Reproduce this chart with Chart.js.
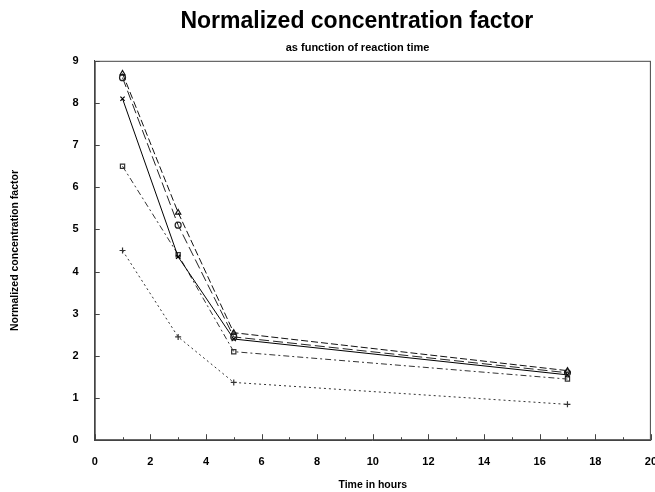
<!DOCTYPE html>
<html>
<head>
<meta charset="utf-8">
<script src="https://cdn.jsdelivr.net/npm/chart.js@4/dist/chart.umd.min.js"></script>
<style>
  html, body { margin: 0; padding: 0; background: #fff; overflow: hidden; }
  #wrap { width: 664px; height: 492px; position: relative; }
</style>
</head>
<body>
<div id="wrap"><canvas id="chart"></canvas></div>
<script>
// reaction times (hours)
const hours = [1, 3, 5, 17];

// normalized concentration factor, one array per run
const runA = [8.7, 5.4, 2.55, 1.65];
const runB = [8.6, 5.1, 2.45, 1.6];
const runC = [8.1, 4.35, 2.4, 1.55];
const runD = [6.5, 4.4, 2.1, 1.45];
const runE = [4.5, 2.45, 1.37, 0.85];

const xTicks = [0, 2, 4, 6, 8, 10, 12, 14, 16, 18, 20];
const yTicks = [0, 1, 2, 3, 4, 5, 6, 7, 8, 9];

const FONT = 'Liberation Sans';

function pts(vals) {
    return hours.map(function (h, i) { return { x: h, y: vals[i] }; });
}

function series(vals, dash, marker, color) {
    return {
        data: pts(vals),
        borderColor: color,
        backgroundColor: 'rgba(0,0,0,0)',
        borderWidth: 1,
        borderDash: dash,
        pointStyle: marker,
        pointRadius: 3,
        pointBorderColor: color,
        pointBorderWidth: 1.2,
        tension: 0
    };
}

// inward tick marks + frame, positioned from the chart's own scales
const frameTicks = {
    id: 'frameTicks',
    afterDatasetsDraw: function (chart) {
        const c = chart.ctx, a = chart.chartArea;
        const xs = chart.scales.x, ys = chart.scales.y;
        c.save();
        c.strokeStyle = '#444';
        c.lineWidth = 1;
        c.strokeRect(a.left + 0.5, a.top + 0.5, a.right - a.left - 1, a.bottom - a.top - 1);
        c.beginPath();
        for (let v = 0; v <= 20; v++) {
            const px = Math.round(xs.getPixelForValue(v)) + 0.5;
            const len = v % 2 === 0 ? 6 : 3;
            c.moveTo(px, a.bottom);
            c.lineTo(px, a.bottom - len);
        }
        yTicks.forEach(function (v) {
            const py = Math.round(ys.getPixelForValue(v)) + 0.5;
            c.moveTo(a.left, py);
            c.lineTo(a.left + 5, py);
        });
        c.stroke();
        c.restore();
    }
};

const ctx = document.getElementById('chart').getContext('2d');
const chart = new Chart(ctx, {
    type: 'line',
    data: {
        datasets: [
            series(runA, [7, 3], 'triangle', '#111'),
            series(runB, [10, 4], 'circle', '#222'),
            series(runC, [], 'crossRot', '#000'),
            series(runD, [6, 3, 2, 3], 'rect', '#333'),
            series(runE, [2, 3], 'cross', '#333')
        ]
    },
    plugins: [frameTicks],
    options: {
        responsive: true,
        maintainAspectRatio: false,
        animation: false,
        layout: { padding: { top: 8, left: 9, right: 0, bottom: 1 } },
        plugins: {
            legend: { display: false },
            tooltip: { enabled: false },
            title: {
                display: true,
                fullSize: false,
                // trailing spaces nudge the centred title a bit left, as in the original
                text: 'Normalized concentration factor     ',
                color: '#000',
                font: { family: FONT, size: 23, weight: 'bold' },
                padding: { top: 0, bottom: 6 }
            },
            subtitle: {
                display: true,
                fullSize: false,
                text: 'as function of reaction time          ',
                color: '#000',
                font: { family: FONT, size: 11, weight: 'bold' },
                padding: { top: 0, bottom: 6 }
            }
        },
        scales: {
            x: {
                type: 'linear',
                min: 0,
                max: 20,
                afterBuildTicks: function (axis) {
                    axis.ticks = xTicks.map(function (v) { return { value: v }; });
                },
                grid: { display: false },
                border: { display: true, color: '#444' },
                ticks: {
                    color: '#000',
                    padding: 7,
                    font: { family: FONT, size: 11, weight: 'bold' }
                },
                title: {
                    display: true,
                    text: 'Time in hours',
                    color: '#000',
                    padding: { top: 3, bottom: 0 },
                    font: { family: FONT, size: 10.5, weight: 'bold' }
                }
            },
            y: {
                min: 0,
                max: 9,
                afterBuildTicks: function (axis) {
                    axis.ticks = yTicks.map(function (v) { return { value: v }; });
                },
                grid: { display: false },
                border: { display: true, color: '#444' },
                ticks: {
                    color: '#000',
                    padding: 8,
                    font: { family: FONT, size: 11, weight: 'bold' }
                },
                title: {
                    display: true,
                    text: 'Normalized concentration factor',
                    color: '#000',
                    padding: { top: 0, bottom: 43 },
                    font: { family: FONT, size: 10.5, weight: 'bold' }
                }
            }
        }
    }
});
</script>
</body>
</html>
